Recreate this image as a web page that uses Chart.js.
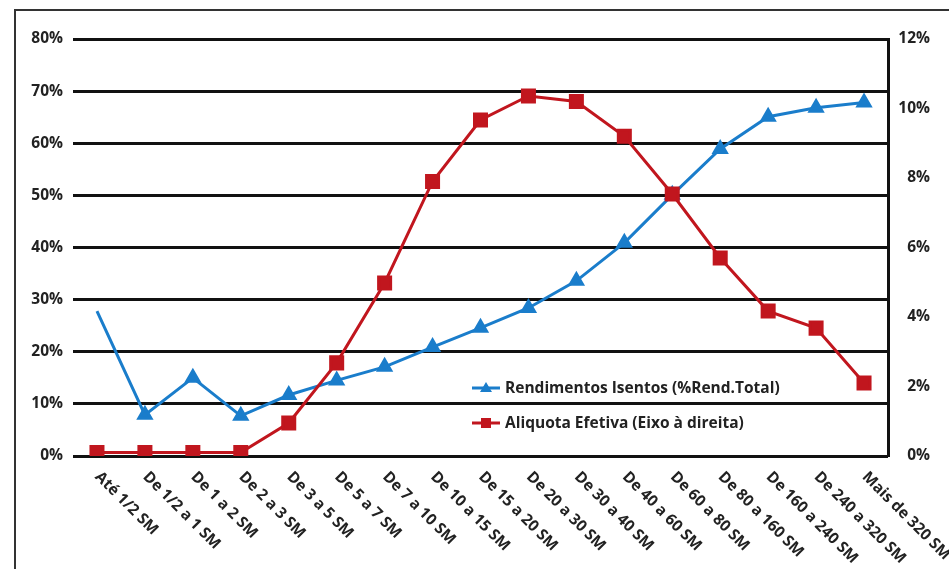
<!DOCTYPE html>
<html>
<head>
<meta charset="utf-8">
<script src="https://cdn.jsdelivr.net/npm/chart.js@4"></script>
<style>
  html, body { margin: 0; padding: 0; background: #fff; }
  #wrap { position: relative; width: 949px; height: 569px; overflow: hidden; }
  #frame { position: absolute; left: 14px; top: 9px; width: 1000px; height: 600px;
           border-left: 2px solid #333; border-top: 2px solid #333; }
  canvas { position: absolute; left: 0; top: 0; }
</style>
</head>
<body>
<div id="wrap">
  <div id="frame"></div>
  <canvas id="chart" width="949" height="569"></canvas>
</div>
<script>
const categories = [
  "Até 1/2 SM", "De 1/2 a 1 SM", "De 1 a 2 SM", "De 2 a 3 SM", "De 3 a 5 SM",
  "De 5 a 7 SM", "De 7 a 10 SM", "De 10 a 15 SM", "De 15 a 20 SM", "De 20 a 30 SM",
  "De 30 a 40 SM", "De 40 a 60 SM", "De 60 a 80 SM", "De 80 a 160 SM",
  "De 160 a 240 SM", "De 240 a 320 SM", "Mais de 320 SM"
];
// % of total income that is exempt (left axis)
const rendIsentos = [27.8, 7.9, 15.0, 7.7, 11.7, 14.5, 17.1, 20.9, 24.6, 28.4, 33.6, 40.9, 50.1, 58.9, 65.1, 66.8, 67.8];
// effective tax rate (right axis)
const aliquota = [0.1, 0.1, 0.1, 0.1, 0.95, 2.68, 4.98, 7.9, 9.67, 10.36, 10.2, 9.2, 7.54, 5.7, 4.17, 3.68, 2.1];

const leftTicks = { min: 0, max: 80, step: 10 };
const rightTicks = { min: 0, max: 12, step: 2 };

const BLUE = '#1a7dcb';
const RED = '#c1161e';
const FONT = '"Open Sans", "DejaVu Sans", sans-serif';
const FSIZE = 15.5;

const customDraw = {
  id: 'customDraw',
  afterDraw(chart) {
    const ctx = chart.ctx;
    const xs = chart.scales.x;
    const area = chart.chartArea;

    // rotated category labels
    ctx.save();
    ctx.fillStyle = '#222';
    ctx.font = 'bold ' + FSIZE + 'px ' + FONT;
    ctx.textAlign = 'left';
    ctx.textBaseline = 'top';
    categories.forEach((c, i) => {
      const x = xs.getPixelForValue(i);
      ctx.save();
      ctx.translate(x + 6, area.bottom + 13);
      ctx.rotate(Math.PI / 4);
      ctx.fillText(c, 0, 0);
      ctx.restore();
    });
    ctx.restore();

    // legend
    const items = [
      { label: 'Rendimentos Isentos (%Rend.Total)', color: BLUE, style: 'triangle', y: 388 },
      { label: 'Aliquota Efetiva (Eixo à direita)', color: RED, style: 'rect', y: 423 }
    ];
    ctx.save();
    items.forEach(it => {
      ctx.strokeStyle = it.color;
      ctx.fillStyle = it.color;
      ctx.lineWidth = 3;
      ctx.beginPath();
      ctx.moveTo(472, it.y);
      ctx.lineTo(500, it.y);
      ctx.stroke();
      ctx.beginPath();
      if (it.style === 'triangle') {
        ctx.moveTo(486, it.y - 6);
        ctx.lineTo(492, it.y + 4);
        ctx.lineTo(480, it.y + 4);
        ctx.closePath();
      } else {
        ctx.rect(481, it.y - 5, 10, 10);
      }
      ctx.fill();
      ctx.fillStyle = '#222';
      ctx.font = 'bold ' + FSIZE + 'px ' + FONT;
      ctx.textAlign = 'left';
      ctx.textBaseline = 'middle';
      ctx.fillText(it.label, 505, it.y + 1);
    });
    ctx.restore();
  }
};

new Chart(document.getElementById('chart'), {
  type: 'line',
  data: {
    labels: categories,
    datasets: [
      {
        label: 'Rendimentos Isentos (%Rend.Total)',
        data: rendIsentos,
        yAxisID: 'y',
        borderColor: BLUE,
        backgroundColor: BLUE,
        borderWidth: 3,
        pointStyle: 'triangle',
        pointRadius: rendIsentos.map((v, i) => i === 0 ? 0 : 7),
        tension: 0,
        order: 2
      },
      {
        label: 'Aliquota Efetiva (Eixo à direita)',
        data: aliquota,
        yAxisID: 'y1',
        borderColor: RED,
        backgroundColor: RED,
        borderWidth: 3,
        pointStyle: 'rect',
        pointRadius: 8.5,
        tension: 0,
        order: 1
      }
    ]
  },
  options: {
    responsive: false,
    animation: false,
    layout: { padding: { top: 39, right: 19, left: 0, bottom: 0 } },
    plugins: { legend: { display: false }, tooltip: { enabled: false } },
    scales: {
      x: {
        offset: true,
        grid: { display: false },
        border: { display: false },
        ticks: { display: false },
        afterFit(s) { s.height = 113; }
      },
      y: {
        position: 'left',
        min: leftTicks.min, max: leftTicks.max,
        ticks: {
          stepSize: leftTicks.step,
          padding: 10,
          color: '#222',
          font: { family: FONT, size: FSIZE, weight: 'bold' },
          callback: v => v + '%'
        },
        grid: { color: '#111', lineWidth: 3, drawTicks: false },
        border: { display: false },
        afterFit(s) { s.width = 73; }
      },
      y1: {
        position: 'right',
        min: rightTicks.min, max: rightTicks.max,
        ticks: {
          stepSize: rightTicks.step,
          crossAlign: 'far',
          color: '#222',
          font: { family: FONT, size: FSIZE, weight: 'bold' },
          callback: v => v + '%'
        },
        grid: { display: false, drawTicks: false },
        border: { display: true, color: '#111', width: 3 },
        afterFit(s) { s.width = 42; }
      }
    }
  },
  plugins: [customDraw]
});
</script>
</body>
</html>
